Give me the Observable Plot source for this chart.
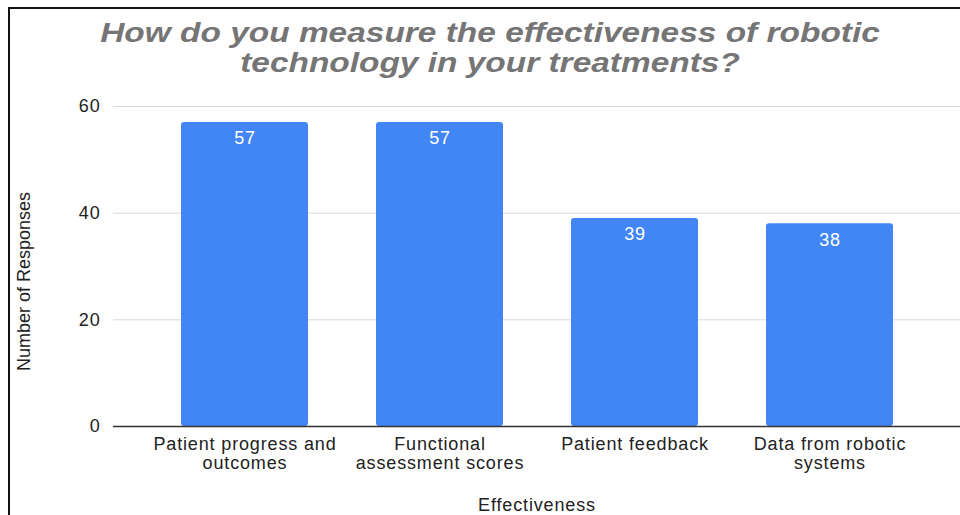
<!DOCTYPE html>
<html><head><meta charset="utf-8">
<script src="https://cdn.jsdelivr.net/npm/d3@7"></script>
<script src="https://cdn.jsdelivr.net/npm/@observablehq/plot@0.6"></script>
<style>
body{margin:0;background:#fff;}
#wrap{position:relative;width:960px;height:515px;overflow:hidden;background:#fff;font-family:"Liberation Sans",Arial,sans-serif;}
#title{height:95px;box-sizing:border-box;padding-top:18px;padding-left:20px;text-align:center;}
#title div{font-size:28px;line-height:30px;font-weight:bold;font-style:italic;color:#757575;transform:scaleX(1.194);transform-origin:470px 0;white-space:nowrap;}
#bt{position:absolute;left:8px;top:7px;width:952px;height:2px;background:#111;}
#bl{position:absolute;left:8px;top:7px;width:2px;height:508px;background:#111;}
#chart svg{display:block;}
</style></head>
<body>
<div id="wrap">
  <div id="title"><div>How do you measure the effectiveness of robotic</div><div>technology in your treatments?</div></div>
  <div id="chart"></div>
  <div id="bt"></div><div id="bl"></div>
</div>
<script>
const categories = ["Patient progress and outcomes", "Functional assessment scores", "Patient feedback", "Data from robotic systems"];
const tickLabels = ["Patient progress and\noutcomes", "Functional\nassessment scores", "Patient feedback", "Data from robotic\nsystems"];
const responses = [57, 57, 39, 38];
const yTicks = [0, 20, 40, 60];
const xTitle = "Effectiveness";
const yTitle = "Number of Responses";

const data = categories.map((c, i) => ({category: c, label: tickLabels[i], value: responses[i]}));

const chart = Plot.plot({
  width: 960,
  height: 420,
  marginTop: 11,
  marginBottom: 89,
  marginLeft: 113,
  marginRight: 0,
  style: {fontFamily: "'Liberation Sans', Arial, sans-serif", fontSize: "18px", letterSpacing: "0.85px", color: "#222", background: "transparent", overflow: "visible"},
  x: {domain: categories, paddingInner: 0.35, paddingOuter: 0.336, axis: null},
  y: {domain: [0, 60]},
  marks: [
    Plot.gridY(yTicks, {stroke: "#d9d9d9", strokeOpacity: 1}),
    Plot.axisY(yTicks, {tickSize: 0, tickPadding: 13, label: null, fontSize: 18}),
    Plot.barY(data, {x: "category", y: "value", fill: "#4285F4", rx: 3}),
    Plot.ruleY([0], {stroke: "#333", strokeWidth: 1.5}),
    Plot.text(data, {x: "category", y: "value", text: d => String(d.value), fill: "white", dy: 16, lineAnchor: "middle", fontSize: 18}),
    Plot.text(data, {x: "category", y: () => 0, text: "label", lineAnchor: "top", dy: 10, lineHeight: 1.05, fill: "#222", fontSize: 18}),
    Plot.text([xTitle], {frameAnchor: "bottom", text: d => d, lineAnchor: "middle", dy: 78.5, fill: "#222", fontSize: 18}),
    Plot.text([yTitle], {frameAnchor: "left", text: d => d, rotate: -90, textAnchor: "middle", lineAnchor: "middle", dx: -89, dy: 15, fill: "#222", fontSize: 18})
  ]
});
d3.select(chart).selectAll("text").filter(function() { return this.textContent === yTitle; }).style("letter-spacing", "0px");
document.getElementById("chart").appendChild(chart);
</script>
</body></html>
